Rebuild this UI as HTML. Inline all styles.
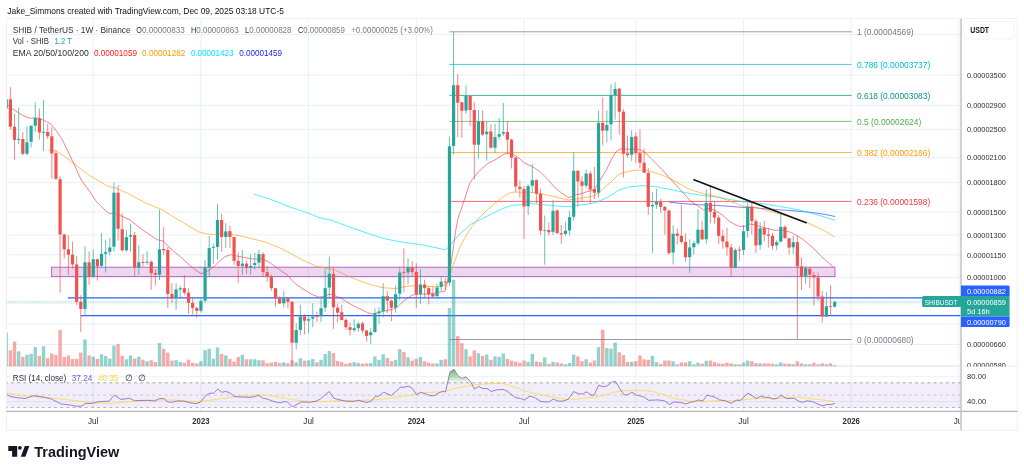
<!DOCTYPE html>
<html lang="en"><head><meta charset="utf-8"><title>SHIBUSDT chart</title>
<style>html,body{margin:0;padding:0;background:#fff;}body{width:1024px;height:473px;overflow:hidden;}svg{display:block;}text{font-family:"Liberation Sans", sans-serif;}</style></head><body>
<svg width="1024" height="473" viewBox="0 0 1024 473">
<defs><clipPath id="main"><rect x="7.05" y="18.5" width="953.95" height="347.9"/></clipPath>
<clipPath id="rsi"><rect x="6.5" y="366.5" width="954.5" height="45"/></clipPath>
<clipPath id="axis"><rect x="961" y="18.5" width="56" height="347.9"/></clipPath>
<clipPath id="taxis"><rect x="6.5" y="412" width="954" height="18"/></clipPath>
<linearGradient id="gr" x1="0" y1="0" x2="0" y2="1"><stop offset="0" stop-color="#4caf50" stop-opacity="0.85"/><stop offset="1" stop-color="#4caf50" stop-opacity="0.05"/></linearGradient>
</defs>
<rect x="0" y="0" width="1024" height="473" fill="#ffffff"/>
<text x="7.3" y="13.9" font-size="9.2" fill="#0b0e14" textLength="276.6" lengthAdjust="spacingAndGlyphs">Jake_Simmons created with TradingView.com, Dec 09, 2025 03:18 UTC-5</text>
<rect x="6.5" y="18.6" width="1010.8" height="411.7" fill="#fff" stroke="#eef0f5" stroke-width="1"/>
<g stroke="#e3edf6" stroke-width="0.8" clip-path="url(#main)">
<line x1="6.5" y1="34.5" x2="961" y2="34.5"/>
<line x1="6.5" y1="75.1" x2="961" y2="75.1"/>
<line x1="6.5" y1="105.4" x2="961" y2="105.4"/>
<line x1="6.5" y1="129.4" x2="961" y2="129.4"/>
<line x1="6.5" y1="157.6" x2="961" y2="157.6"/>
<line x1="6.5" y1="182.5" x2="961" y2="182.5"/>
<line x1="6.5" y1="211.9" x2="961" y2="211.9"/>
<line x1="6.5" y1="235.0" x2="961" y2="235.0"/>
<line x1="6.5" y1="254.8" x2="961" y2="254.8"/>
<line x1="6.5" y1="277.4" x2="961" y2="277.4"/>
<line x1="6.5" y1="303.6" x2="961" y2="303.6"/>
<line x1="6.5" y1="323.9" x2="961" y2="323.9"/>
<line x1="6.5" y1="344.5" x2="961" y2="344.5"/>
<line x1="6.5" y1="365.4" x2="961" y2="365.4"/>
</g>
<g stroke="#e3edf6" stroke-width="0.8">
<line x1="93.2" y1="18.6" x2="93.2" y2="411"/>
<line x1="200.9" y1="18.6" x2="200.9" y2="411"/>
<line x1="308.6" y1="18.6" x2="308.6" y2="411"/>
<line x1="416.3" y1="18.6" x2="416.3" y2="411"/>
<line x1="524.0" y1="18.6" x2="524.0" y2="411"/>
<line x1="635.8" y1="18.6" x2="635.8" y2="411"/>
<line x1="743.5" y1="18.6" x2="743.5" y2="411"/>
<line x1="851.2" y1="18.6" x2="851.2" y2="411"/>
<line x1="958.9" y1="18.6" x2="958.9" y2="411"/>
<line x1="6.5" y1="376.3" x2="961" y2="376.3"/>
<line x1="6.5" y1="401.5" x2="961" y2="401.5"/>
</g>
<line x1="6.5" y1="366.4" x2="1017.3" y2="366.4" stroke="#e6ebf3" stroke-width="0.9"/>
<rect x="51.6" y="267.2" width="783.4" height="9.4" fill="#9c27b0" fill-opacity="0.19" stroke="#ab47bc" stroke-opacity="0.9" stroke-width="0.9"/>
<line x1="449.4" y1="31.8" x2="851.6" y2="31.8" stroke="#787b86" stroke-width="0.75"/>
<line x1="449.4" y1="64.4" x2="851.6" y2="64.4" stroke="#00bcd4" stroke-width="0.75"/>
<line x1="449.4" y1="95.4" x2="851.6" y2="95.4" stroke="#089981" stroke-width="0.75"/>
<line x1="449.4" y1="121.4" x2="851.6" y2="121.4" stroke="#4caf50" stroke-width="0.75"/>
<line x1="449.4" y1="152.6" x2="851.6" y2="152.6" stroke="#ff9800" stroke-width="0.75"/>
<line x1="449.4" y1="201.4" x2="851.6" y2="201.4" stroke="#f23645" stroke-width="0.75"/>
<line x1="449.4" y1="339.5" x2="851.6" y2="339.5" stroke="#787b86" stroke-width="0.75"/>
<line x1="6.5" y1="301.9" x2="961" y2="301.9" stroke="#26a69a" stroke-width="0.8" stroke-dasharray="0.9 0.8" stroke-opacity="0.7"/>
<line x1="67.9" y1="297.8" x2="961" y2="297.8" stroke="#2962ff" stroke-width="1.25"/>
<line x1="80.6" y1="315.5" x2="961" y2="315.5" stroke="#2962ff" stroke-width="1.25"/>
<g clip-path="url(#main)">
<rect x="4.56" y="332.6" width="3.4" height="33.7" fill="#26a69a" fill-opacity="0.5"/>
<rect x="8.70" y="350.4" width="3.4" height="15.9" fill="#ef5350" fill-opacity="0.5"/>
<rect x="12.84" y="341.6" width="3.4" height="24.7" fill="#ef5350" fill-opacity="0.5"/>
<rect x="16.98" y="351.3" width="3.4" height="15.0" fill="#26a69a" fill-opacity="0.5"/>
<rect x="21.13" y="356.7" width="3.4" height="9.6" fill="#ef5350" fill-opacity="0.5"/>
<rect x="25.27" y="354.8" width="3.4" height="11.5" fill="#26a69a" fill-opacity="0.5"/>
<rect x="29.41" y="353.9" width="3.4" height="12.4" fill="#26a69a" fill-opacity="0.5"/>
<rect x="33.55" y="347.1" width="3.4" height="19.2" fill="#26a69a" fill-opacity="0.5"/>
<rect x="37.69" y="355.8" width="3.4" height="10.5" fill="#ef5350" fill-opacity="0.5"/>
<rect x="41.84" y="346.3" width="3.4" height="20.0" fill="#26a69a" fill-opacity="0.5"/>
<rect x="45.98" y="358.3" width="3.4" height="8.0" fill="#ef5350" fill-opacity="0.5"/>
<rect x="50.12" y="353.5" width="3.4" height="12.8" fill="#ef5350" fill-opacity="0.5"/>
<rect x="54.26" y="355.1" width="3.4" height="11.2" fill="#ef5350" fill-opacity="0.5"/>
<rect x="58.40" y="329.8" width="3.4" height="36.5" fill="#ef5350" fill-opacity="0.5"/>
<rect x="62.55" y="357.0" width="3.4" height="9.3" fill="#ef5350" fill-opacity="0.5"/>
<rect x="66.69" y="355.5" width="3.4" height="10.8" fill="#ef5350" fill-opacity="0.5"/>
<rect x="70.83" y="358.9" width="3.4" height="7.4" fill="#ef5350" fill-opacity="0.5"/>
<rect x="74.97" y="358.9" width="3.4" height="7.4" fill="#ef5350" fill-opacity="0.5"/>
<rect x="79.11" y="352.6" width="3.4" height="13.7" fill="#ef5350" fill-opacity="0.5"/>
<rect x="83.26" y="339.5" width="3.4" height="26.8" fill="#26a69a" fill-opacity="0.5"/>
<rect x="87.40" y="355.4" width="3.4" height="10.9" fill="#ef5350" fill-opacity="0.5"/>
<rect x="91.54" y="356.7" width="3.4" height="9.6" fill="#26a69a" fill-opacity="0.5"/>
<rect x="95.68" y="358.9" width="3.4" height="7.4" fill="#ef5350" fill-opacity="0.5"/>
<rect x="99.82" y="354.3" width="3.4" height="12.0" fill="#26a69a" fill-opacity="0.5"/>
<rect x="103.97" y="356.0" width="3.4" height="10.3" fill="#26a69a" fill-opacity="0.5"/>
<rect x="108.11" y="358.6" width="3.4" height="7.7" fill="#26a69a" fill-opacity="0.5"/>
<rect x="112.25" y="345.6" width="3.4" height="20.7" fill="#26a69a" fill-opacity="0.5"/>
<rect x="116.39" y="344.1" width="3.4" height="22.2" fill="#ef5350" fill-opacity="0.5"/>
<rect x="120.53" y="355.8" width="3.4" height="10.5" fill="#ef5350" fill-opacity="0.5"/>
<rect x="124.68" y="359.3" width="3.4" height="7.0" fill="#26a69a" fill-opacity="0.5"/>
<rect x="128.82" y="355.5" width="3.4" height="10.8" fill="#26a69a" fill-opacity="0.5"/>
<rect x="132.96" y="358.6" width="3.4" height="7.7" fill="#ef5350" fill-opacity="0.5"/>
<rect x="137.10" y="356.7" width="3.4" height="9.6" fill="#26a69a" fill-opacity="0.5"/>
<rect x="141.24" y="359.6" width="3.4" height="6.7" fill="#ef5350" fill-opacity="0.5"/>
<rect x="145.39" y="361.1" width="3.4" height="5.2" fill="#26a69a" fill-opacity="0.5"/>
<rect x="149.53" y="360.2" width="3.4" height="6.1" fill="#ef5350" fill-opacity="0.5"/>
<rect x="153.67" y="362.1" width="3.4" height="4.2" fill="#ef5350" fill-opacity="0.5"/>
<rect x="157.81" y="343.1" width="3.4" height="23.2" fill="#26a69a" fill-opacity="0.5"/>
<rect x="161.95" y="348.8" width="3.4" height="17.5" fill="#ef5350" fill-opacity="0.5"/>
<rect x="166.10" y="352.6" width="3.4" height="13.7" fill="#ef5350" fill-opacity="0.5"/>
<rect x="170.24" y="360.6" width="3.4" height="5.7" fill="#ef5350" fill-opacity="0.5"/>
<rect x="174.38" y="360.2" width="3.4" height="6.1" fill="#26a69a" fill-opacity="0.5"/>
<rect x="178.52" y="361.9" width="3.4" height="4.4" fill="#26a69a" fill-opacity="0.5"/>
<rect x="182.66" y="362.7" width="3.4" height="3.6" fill="#ef5350" fill-opacity="0.5"/>
<rect x="186.81" y="359.6" width="3.4" height="6.7" fill="#ef5350" fill-opacity="0.5"/>
<rect x="190.95" y="362.7" width="3.4" height="3.6" fill="#ef5350" fill-opacity="0.5"/>
<rect x="195.09" y="363.4" width="3.4" height="2.9" fill="#ef5350" fill-opacity="0.5"/>
<rect x="199.23" y="361.2" width="3.4" height="5.1" fill="#26a69a" fill-opacity="0.5"/>
<rect x="203.37" y="350.1" width="3.4" height="16.2" fill="#26a69a" fill-opacity="0.5"/>
<rect x="207.52" y="348.8" width="3.4" height="17.5" fill="#26a69a" fill-opacity="0.5"/>
<rect x="211.66" y="358.6" width="3.4" height="7.7" fill="#26a69a" fill-opacity="0.5"/>
<rect x="215.80" y="347.5" width="3.4" height="18.8" fill="#26a69a" fill-opacity="0.5"/>
<rect x="219.94" y="353.9" width="3.4" height="12.4" fill="#ef5350" fill-opacity="0.5"/>
<rect x="224.08" y="355.4" width="3.4" height="10.9" fill="#26a69a" fill-opacity="0.5"/>
<rect x="228.23" y="358.9" width="3.4" height="7.4" fill="#ef5350" fill-opacity="0.5"/>
<rect x="232.37" y="361.5" width="3.4" height="4.8" fill="#ef5350" fill-opacity="0.5"/>
<rect x="236.51" y="357.0" width="3.4" height="9.3" fill="#ef5350" fill-opacity="0.5"/>
<rect x="240.65" y="354.9" width="3.4" height="11.4" fill="#26a69a" fill-opacity="0.5"/>
<rect x="244.79" y="359.3" width="3.4" height="7.0" fill="#ef5350" fill-opacity="0.5"/>
<rect x="248.94" y="359.3" width="3.4" height="7.0" fill="#26a69a" fill-opacity="0.5"/>
<rect x="253.08" y="359.3" width="3.4" height="7.0" fill="#26a69a" fill-opacity="0.5"/>
<rect x="257.22" y="360.3" width="3.4" height="6.0" fill="#26a69a" fill-opacity="0.5"/>
<rect x="261.36" y="360.3" width="3.4" height="6.0" fill="#ef5350" fill-opacity="0.5"/>
<rect x="265.50" y="363.1" width="3.4" height="3.2" fill="#ef5350" fill-opacity="0.5"/>
<rect x="269.65" y="362.5" width="3.4" height="3.8" fill="#ef5350" fill-opacity="0.5"/>
<rect x="273.79" y="361.9" width="3.4" height="4.4" fill="#ef5350" fill-opacity="0.5"/>
<rect x="277.93" y="363.1" width="3.4" height="3.2" fill="#ef5350" fill-opacity="0.5"/>
<rect x="282.07" y="362.3" width="3.4" height="4.0" fill="#26a69a" fill-opacity="0.5"/>
<rect x="286.21" y="363.4" width="3.4" height="2.9" fill="#ef5350" fill-opacity="0.5"/>
<rect x="290.36" y="360.3" width="3.4" height="6.0" fill="#ef5350" fill-opacity="0.5"/>
<rect x="294.50" y="362.3" width="3.4" height="4.0" fill="#26a69a" fill-opacity="0.5"/>
<rect x="298.64" y="358.3" width="3.4" height="8.0" fill="#26a69a" fill-opacity="0.5"/>
<rect x="302.78" y="360.6" width="3.4" height="5.7" fill="#ef5350" fill-opacity="0.5"/>
<rect x="306.92" y="360.3" width="3.4" height="6.0" fill="#26a69a" fill-opacity="0.5"/>
<rect x="311.07" y="359.1" width="3.4" height="7.2" fill="#26a69a" fill-opacity="0.5"/>
<rect x="315.21" y="362.3" width="3.4" height="4.0" fill="#ef5350" fill-opacity="0.5"/>
<rect x="319.35" y="359.7" width="3.4" height="6.6" fill="#26a69a" fill-opacity="0.5"/>
<rect x="323.49" y="354.0" width="3.4" height="12.3" fill="#26a69a" fill-opacity="0.5"/>
<rect x="327.63" y="351.1" width="3.4" height="15.2" fill="#26a69a" fill-opacity="0.5"/>
<rect x="331.78" y="353.0" width="3.4" height="13.3" fill="#ef5350" fill-opacity="0.5"/>
<rect x="335.92" y="361.0" width="3.4" height="5.3" fill="#ef5350" fill-opacity="0.5"/>
<rect x="340.06" y="362.1" width="3.4" height="4.2" fill="#ef5350" fill-opacity="0.5"/>
<rect x="344.20" y="363.8" width="3.4" height="2.5" fill="#ef5350" fill-opacity="0.5"/>
<rect x="348.34" y="362.9" width="3.4" height="3.4" fill="#ef5350" fill-opacity="0.5"/>
<rect x="352.49" y="362.1" width="3.4" height="4.2" fill="#26a69a" fill-opacity="0.5"/>
<rect x="356.63" y="363.1" width="3.4" height="3.2" fill="#26a69a" fill-opacity="0.5"/>
<rect x="360.77" y="363.6" width="3.4" height="2.7" fill="#ef5350" fill-opacity="0.5"/>
<rect x="364.91" y="363.4" width="3.4" height="2.9" fill="#ef5350" fill-opacity="0.5"/>
<rect x="369.05" y="363.1" width="3.4" height="3.2" fill="#26a69a" fill-opacity="0.5"/>
<rect x="373.20" y="356.4" width="3.4" height="9.9" fill="#26a69a" fill-opacity="0.5"/>
<rect x="377.34" y="359.8" width="3.4" height="6.5" fill="#26a69a" fill-opacity="0.5"/>
<rect x="381.48" y="354.3" width="3.4" height="12.0" fill="#26a69a" fill-opacity="0.5"/>
<rect x="385.62" y="358.1" width="3.4" height="8.2" fill="#ef5350" fill-opacity="0.5"/>
<rect x="389.76" y="361.1" width="3.4" height="5.2" fill="#ef5350" fill-opacity="0.5"/>
<rect x="393.91" y="359.8" width="3.4" height="6.5" fill="#26a69a" fill-opacity="0.5"/>
<rect x="398.05" y="349.2" width="3.4" height="17.1" fill="#26a69a" fill-opacity="0.5"/>
<rect x="402.19" y="352.0" width="3.4" height="14.3" fill="#ef5350" fill-opacity="0.5"/>
<rect x="406.33" y="357.3" width="3.4" height="9.0" fill="#26a69a" fill-opacity="0.5"/>
<rect x="410.47" y="360.6" width="3.4" height="5.7" fill="#ef5350" fill-opacity="0.5"/>
<rect x="414.62" y="358.9" width="3.4" height="7.4" fill="#ef5350" fill-opacity="0.5"/>
<rect x="418.76" y="357.0" width="3.4" height="9.3" fill="#26a69a" fill-opacity="0.5"/>
<rect x="422.90" y="361.2" width="3.4" height="5.1" fill="#ef5350" fill-opacity="0.5"/>
<rect x="427.04" y="362.7" width="3.4" height="3.6" fill="#ef5350" fill-opacity="0.5"/>
<rect x="431.18" y="363.4" width="3.4" height="2.9" fill="#ef5350" fill-opacity="0.5"/>
<rect x="435.33" y="363.4" width="3.4" height="2.9" fill="#26a69a" fill-opacity="0.5"/>
<rect x="439.47" y="359.8" width="3.4" height="6.5" fill="#26a69a" fill-opacity="0.5"/>
<rect x="443.61" y="359.3" width="3.4" height="7.0" fill="#ef5350" fill-opacity="0.5"/>
<rect x="447.75" y="307.9" width="3.4" height="58.4" fill="#26a69a" fill-opacity="0.5"/>
<rect x="451.89" y="279.7" width="3.4" height="86.6" fill="#26a69a" fill-opacity="0.5"/>
<rect x="456.04" y="336.1" width="3.4" height="30.2" fill="#ef5350" fill-opacity="0.5"/>
<rect x="460.18" y="343.2" width="3.4" height="23.1" fill="#ef5350" fill-opacity="0.5"/>
<rect x="464.32" y="349.2" width="3.4" height="17.1" fill="#26a69a" fill-opacity="0.5"/>
<rect x="468.46" y="356.4" width="3.4" height="9.9" fill="#ef5350" fill-opacity="0.5"/>
<rect x="472.60" y="350.4" width="3.4" height="15.9" fill="#ef5350" fill-opacity="0.5"/>
<rect x="476.75" y="353.2" width="3.4" height="13.1" fill="#26a69a" fill-opacity="0.5"/>
<rect x="480.89" y="355.9" width="3.4" height="10.4" fill="#ef5350" fill-opacity="0.5"/>
<rect x="485.03" y="354.5" width="3.4" height="11.8" fill="#26a69a" fill-opacity="0.5"/>
<rect x="489.17" y="359.8" width="3.4" height="6.5" fill="#ef5350" fill-opacity="0.5"/>
<rect x="493.31" y="356.4" width="3.4" height="9.9" fill="#26a69a" fill-opacity="0.5"/>
<rect x="497.46" y="356.8" width="3.4" height="9.5" fill="#26a69a" fill-opacity="0.5"/>
<rect x="501.60" y="353.5" width="3.4" height="12.8" fill="#26a69a" fill-opacity="0.5"/>
<rect x="505.74" y="358.9" width="3.4" height="7.4" fill="#ef5350" fill-opacity="0.5"/>
<rect x="509.88" y="360.6" width="3.4" height="5.7" fill="#ef5350" fill-opacity="0.5"/>
<rect x="514.02" y="361.5" width="3.4" height="4.8" fill="#ef5350" fill-opacity="0.5"/>
<rect x="518.17" y="362.7" width="3.4" height="3.6" fill="#ef5350" fill-opacity="0.5"/>
<rect x="522.31" y="360.6" width="3.4" height="5.7" fill="#ef5350" fill-opacity="0.5"/>
<rect x="526.45" y="361.9" width="3.4" height="4.4" fill="#26a69a" fill-opacity="0.5"/>
<rect x="530.59" y="353.9" width="3.4" height="12.4" fill="#26a69a" fill-opacity="0.5"/>
<rect x="534.73" y="361.5" width="3.4" height="4.8" fill="#ef5350" fill-opacity="0.5"/>
<rect x="538.88" y="362.1" width="3.4" height="4.2" fill="#ef5350" fill-opacity="0.5"/>
<rect x="543.02" y="357.4" width="3.4" height="8.9" fill="#26a69a" fill-opacity="0.5"/>
<rect x="547.16" y="363.8" width="3.4" height="2.5" fill="#ef5350" fill-opacity="0.5"/>
<rect x="551.30" y="361.7" width="3.4" height="4.6" fill="#26a69a" fill-opacity="0.5"/>
<rect x="555.44" y="362.4" width="3.4" height="3.9" fill="#ef5350" fill-opacity="0.5"/>
<rect x="559.59" y="363.4" width="3.4" height="2.9" fill="#ef5350" fill-opacity="0.5"/>
<rect x="563.73" y="364.3" width="3.4" height="2.0" fill="#26a69a" fill-opacity="0.5"/>
<rect x="567.87" y="363.0" width="3.4" height="3.3" fill="#26a69a" fill-opacity="0.5"/>
<rect x="572.01" y="354.5" width="3.4" height="11.8" fill="#26a69a" fill-opacity="0.5"/>
<rect x="576.15" y="356.4" width="3.4" height="9.9" fill="#ef5350" fill-opacity="0.5"/>
<rect x="580.30" y="361.1" width="3.4" height="5.2" fill="#ef5350" fill-opacity="0.5"/>
<rect x="584.44" y="359.3" width="3.4" height="7.0" fill="#26a69a" fill-opacity="0.5"/>
<rect x="588.58" y="362.4" width="3.4" height="3.9" fill="#ef5350" fill-opacity="0.5"/>
<rect x="592.72" y="360.5" width="3.4" height="5.8" fill="#ef5350" fill-opacity="0.5"/>
<rect x="596.86" y="347.1" width="3.4" height="19.2" fill="#26a69a" fill-opacity="0.5"/>
<rect x="601.01" y="329.8" width="3.4" height="36.5" fill="#ef5350" fill-opacity="0.5"/>
<rect x="605.15" y="348.0" width="3.4" height="18.3" fill="#26a69a" fill-opacity="0.5"/>
<rect x="609.29" y="348.8" width="3.4" height="17.5" fill="#26a69a" fill-opacity="0.5"/>
<rect x="613.43" y="342.5" width="3.4" height="23.8" fill="#26a69a" fill-opacity="0.5"/>
<rect x="617.57" y="352.2" width="3.4" height="14.1" fill="#ef5350" fill-opacity="0.5"/>
<rect x="621.72" y="355.1" width="3.4" height="11.2" fill="#ef5350" fill-opacity="0.5"/>
<rect x="625.86" y="361.9" width="3.4" height="4.4" fill="#ef5350" fill-opacity="0.5"/>
<rect x="630.00" y="361.9" width="3.4" height="4.4" fill="#26a69a" fill-opacity="0.5"/>
<rect x="634.14" y="361.2" width="3.4" height="5.1" fill="#ef5350" fill-opacity="0.5"/>
<rect x="638.28" y="355.4" width="3.4" height="10.9" fill="#ef5350" fill-opacity="0.5"/>
<rect x="642.43" y="359.3" width="3.4" height="7.0" fill="#ef5350" fill-opacity="0.5"/>
<rect x="646.57" y="359.8" width="3.4" height="6.5" fill="#ef5350" fill-opacity="0.5"/>
<rect x="650.71" y="355.8" width="3.4" height="10.5" fill="#26a69a" fill-opacity="0.5"/>
<rect x="654.85" y="362.1" width="3.4" height="4.2" fill="#26a69a" fill-opacity="0.5"/>
<rect x="658.99" y="363.8" width="3.4" height="2.5" fill="#ef5350" fill-opacity="0.5"/>
<rect x="663.14" y="360.5" width="3.4" height="5.8" fill="#ef5350" fill-opacity="0.5"/>
<rect x="667.28" y="360.5" width="3.4" height="5.8" fill="#ef5350" fill-opacity="0.5"/>
<rect x="671.42" y="361.2" width="3.4" height="5.1" fill="#26a69a" fill-opacity="0.5"/>
<rect x="675.56" y="364.3" width="3.4" height="2.0" fill="#ef5350" fill-opacity="0.5"/>
<rect x="679.70" y="362.4" width="3.4" height="3.9" fill="#ef5350" fill-opacity="0.5"/>
<rect x="683.85" y="362.5" width="3.4" height="3.8" fill="#ef5350" fill-opacity="0.5"/>
<rect x="687.99" y="361.2" width="3.4" height="5.1" fill="#26a69a" fill-opacity="0.5"/>
<rect x="692.13" y="364.4" width="3.4" height="1.9" fill="#26a69a" fill-opacity="0.5"/>
<rect x="696.27" y="362.7" width="3.4" height="3.6" fill="#26a69a" fill-opacity="0.5"/>
<rect x="700.41" y="363.6" width="3.4" height="2.7" fill="#ef5350" fill-opacity="0.5"/>
<rect x="704.56" y="360.8" width="3.4" height="5.5" fill="#26a69a" fill-opacity="0.5"/>
<rect x="708.70" y="360.5" width="3.4" height="5.8" fill="#ef5350" fill-opacity="0.5"/>
<rect x="712.84" y="362.1" width="3.4" height="4.2" fill="#ef5350" fill-opacity="0.5"/>
<rect x="716.98" y="363.4" width="3.4" height="2.9" fill="#ef5350" fill-opacity="0.5"/>
<rect x="721.12" y="363.8" width="3.4" height="2.5" fill="#ef5350" fill-opacity="0.5"/>
<rect x="725.27" y="362.8" width="3.4" height="3.5" fill="#ef5350" fill-opacity="0.5"/>
<rect x="729.41" y="363.4" width="3.4" height="2.9" fill="#ef5350" fill-opacity="0.5"/>
<rect x="733.55" y="364.3" width="3.4" height="2.0" fill="#26a69a" fill-opacity="0.5"/>
<rect x="737.69" y="364.3" width="3.4" height="2.0" fill="#ef5350" fill-opacity="0.5"/>
<rect x="741.83" y="362.5" width="3.4" height="3.8" fill="#26a69a" fill-opacity="0.5"/>
<rect x="745.98" y="360.5" width="3.4" height="5.8" fill="#26a69a" fill-opacity="0.5"/>
<rect x="750.12" y="361.2" width="3.4" height="5.1" fill="#ef5350" fill-opacity="0.5"/>
<rect x="754.26" y="363.1" width="3.4" height="3.2" fill="#ef5350" fill-opacity="0.5"/>
<rect x="758.40" y="363.4" width="3.4" height="2.9" fill="#26a69a" fill-opacity="0.5"/>
<rect x="762.54" y="363.4" width="3.4" height="2.9" fill="#ef5350" fill-opacity="0.5"/>
<rect x="766.69" y="363.4" width="3.4" height="2.9" fill="#ef5350" fill-opacity="0.5"/>
<rect x="770.83" y="363.6" width="3.4" height="2.7" fill="#ef5350" fill-opacity="0.5"/>
<rect x="774.97" y="364.3" width="3.4" height="2.0" fill="#26a69a" fill-opacity="0.5"/>
<rect x="779.11" y="362.5" width="3.4" height="3.8" fill="#26a69a" fill-opacity="0.5"/>
<rect x="783.25" y="363.6" width="3.4" height="2.7" fill="#ef5350" fill-opacity="0.5"/>
<rect x="787.40" y="363.6" width="3.4" height="2.7" fill="#ef5350" fill-opacity="0.5"/>
<rect x="791.54" y="364.3" width="3.4" height="2.0" fill="#26a69a" fill-opacity="0.5"/>
<rect x="795.68" y="361.2" width="3.4" height="5.1" fill="#ef5350" fill-opacity="0.5"/>
<rect x="799.82" y="363.4" width="3.4" height="2.9" fill="#ef5350" fill-opacity="0.5"/>
<rect x="803.96" y="364.3" width="3.4" height="2.0" fill="#26a69a" fill-opacity="0.5"/>
<rect x="808.11" y="364.3" width="3.4" height="2.0" fill="#ef5350" fill-opacity="0.5"/>
<rect x="812.25" y="362.7" width="3.4" height="3.6" fill="#ef5350" fill-opacity="0.5"/>
<rect x="816.39" y="364.3" width="3.4" height="2.0" fill="#ef5350" fill-opacity="0.5"/>
<rect x="820.53" y="363.4" width="3.4" height="2.9" fill="#ef5350" fill-opacity="0.5"/>
<rect x="824.67" y="364.3" width="3.4" height="2.0" fill="#26a69a" fill-opacity="0.5"/>
<rect x="828.82" y="363.4" width="3.4" height="2.9" fill="#ef5350" fill-opacity="0.5"/>
<rect x="832.96" y="365.3" width="3.4" height="1.0" fill="#26a69a" fill-opacity="0.5"/>
</g>
<g clip-path="url(#main)">
<polyline fill="none" stroke="#2a2aff" stroke-width="0.62" stroke-linejoin="round"  points="669.2,202.2 681.9,203.5 697.1,204.7 716.1,205.4 728.8,206.3 741.5,207.3 754.2,207.6 762.7,208.6 775.4,209.5 788.1,210.4 800.7,211.4 813.4,212.7 826.1,214.6 835.2,216.5"/>
<polyline fill="none" stroke="#00e5ff" stroke-width="0.68" stroke-linejoin="round"  points="254.2,194.3 271.7,199.7 290.7,207.3 308.5,213.2 318.7,217.4 331.3,220.3 347.8,226.3 360.0,230.6 372.7,235.1 385.4,238.9 398.1,241.4 410.7,243.3 423.4,245.2 436.1,247.8 445.0,249.7 448.8,247.1 453.9,240.5 460.6,233.3 470.7,224.4 480.9,219.3 491.0,214.3 501.2,209.2 511.3,205.4 521.5,204.7 530.7,203.5 543.4,204.7 556.1,206.0 568.8,206.6 576.4,205.4 587.8,204.1 596.7,202.2 608.0,197.1 619.9,189.6 628.8,187.1 641.5,185.6 654.2,186.4 665.4,188.5 678.1,191.1 690.7,193.6 703.4,195.5 716.1,197.0 728.8,199.3 741.5,201.6 754.2,202.9 762.7,203.6 775.4,205.7 788.1,207.9 800.7,210.4 813.4,213.7 826.1,217.5 835.2,220.3"/>
<polyline fill="none" stroke="#ff9800" stroke-width="0.62" stroke-linejoin="round"  points="47.6,150.0 55.8,150.9 66.0,157.3 76.1,165.5 88.8,175.0 101.5,182.6 109.1,186.7 115.4,187.9 121.8,190.8 127.6,193.3 145.4,202.8 163.1,210.2 173.3,216.8 188.5,225.7 198.6,231.8 206.3,233.9 215.1,234.5 221.5,233.9 234.2,234.8 240.0,235.7 252.7,238.9 265.4,242.1 278.1,247.1 290.7,253.5 303.4,260.4 316.1,266.2 328.8,268.7 336.4,270.6 347.8,275.9 359.2,280.7 370.1,284.5 382.8,287.7 395.5,288.6 404.4,286.8 414.5,285.6 431.0,286.5 441.2,286.8 447.5,283.3 452.6,266.8 460.2,246.5 463.8,239.6 470.7,228.2 478.4,218.7 487.2,209.8 498.7,200.3 506.3,194.6 511.7,192.3 521.5,192.1 531.6,192.4 540.9,193.7 551.0,195.9 561.2,198.4 568.8,200.0 576.4,199.0 584.0,197.8 591.6,196.5 599.2,192.7 602.2,189.6 611.0,182.0 618.7,174.4 626.3,171.9 633.9,170.3 641.5,170.0 647.8,170.6 654.2,172.5 661.8,175.0 668.0,177.6 678.1,182.8 690.7,189.8 703.4,193.6 716.1,196.2 728.8,200.6 741.5,205.7 747.8,206.9 754.2,207.2 768.0,210.7 780.0,214.0 795.0,218.6 807.1,222.6 816.0,226.6 826.1,231.7 835.2,237.4"/>
<polyline fill="none" stroke="#f23645" stroke-width="0.62" stroke-linejoin="round"  points="7.4,104.7 14.6,110.4 22.8,115.5 29.2,118.0 38.0,118.0 44.4,120.6 50.7,123.8 55.8,130.1 62.2,139.6 73.6,163.0 81.2,180.0 88.8,190.1 96.4,201.6 105.3,210.4 109.7,213.6 112.9,213.0 121.8,216.2 130.1,220.0 142.8,230.1 156.8,239.5 163.8,241.4 168.2,246.5 180.9,257.3 193.6,268.7 201.2,273.8 204.4,272.5 208.8,270.3 213.9,266.8 220.2,260.4 225.3,256.6 230.4,254.7 236.7,256.0 248.0,258.2 252.7,258.9 262.8,259.2 269.2,262.3 278.1,268.7 288.2,275.7 293.3,282.0 300.9,287.6 311.0,294.0 318.7,297.1 325.0,296.5 329.4,294.0 333.9,295.2 340.2,297.8 350.4,304.1 359.2,308.5 367.6,312.7 372.7,314.0 379.0,312.3 395.5,308.5 403.8,300.9 412.0,295.0 419.6,294.2 428.5,294.2 436.1,292.7 445.0,291.2 446.9,283.8 451.3,262.0 455.8,230.0 458.1,218.1 463.8,201.6 469.5,183.8 472.0,179.8 479.6,170.7 487.2,163.8 496.1,159.3 503.7,154.3 507.5,153.2 513.9,154.9 519.0,158.1 524.7,163.1 534.2,167.6 541.8,173.3 548.0,179.6 553.6,186.3 561.2,192.7 568.8,197.8 573.9,195.2 580.2,194.0 587.8,191.4 594.2,190.1 599.6,180.7 606.0,170.6 611.0,160.4 616.1,151.6 619.9,149.0 628.8,149.3 636.4,149.0 641.5,150.3 645.3,152.6 654.2,161.7 661.8,169.3 668.0,176.3 678.1,187.3 690.7,201.2 703.4,209.7 708.0,208.5 714.8,210.1 722.5,215.1 728.8,220.8 735.1,224.6 740.2,226.5 745.3,226.2 749.1,224.0 754.2,224.6 762.7,227.3 775.4,230.4 781.7,229.8 790.6,232.3 796.9,235.5 804.5,240.6 813.4,248.2 821.0,255.8 824.8,259.6 833.4,267.0"/>
</g>
<g clip-path="url(#main)">
<line x1="6.26" y1="99.3" x2="6.26" y2="108.5" stroke="#26a69a" stroke-width="0.7"/>
<rect x="4.66" y="99.3" width="3.2" height="9.2" fill="#26a69a"/>
<line x1="10.40" y1="87.2" x2="10.40" y2="129.7" stroke="#ef5350" stroke-width="0.7"/>
<rect x="8.80" y="99.3" width="3.2" height="27.4" fill="#ef5350"/>
<line x1="14.54" y1="114.0" x2="14.54" y2="159.8" stroke="#ef5350" stroke-width="0.7"/>
<rect x="12.94" y="126.7" width="3.2" height="13.2" fill="#ef5350"/>
<line x1="18.68" y1="107.5" x2="18.68" y2="144.0" stroke="#26a69a" stroke-width="0.7"/>
<rect x="17.08" y="138.9" width="3.2" height="1.0" fill="#26a69a"/>
<line x1="22.83" y1="132.0" x2="22.83" y2="155.4" stroke="#ef5350" stroke-width="0.7"/>
<rect x="21.23" y="139.0" width="3.2" height="14.8" fill="#ef5350"/>
<line x1="26.97" y1="126.3" x2="26.97" y2="155.4" stroke="#26a69a" stroke-width="0.7"/>
<rect x="25.37" y="142.3" width="3.2" height="11.5" fill="#26a69a"/>
<line x1="31.11" y1="125.0" x2="31.11" y2="147.5" stroke="#26a69a" stroke-width="0.7"/>
<rect x="29.51" y="125.9" width="3.2" height="15.9" fill="#26a69a"/>
<line x1="35.25" y1="102.2" x2="35.25" y2="132.0" stroke="#26a69a" stroke-width="0.7"/>
<rect x="33.65" y="118.1" width="3.2" height="7.6" fill="#26a69a"/>
<line x1="39.39" y1="108.5" x2="39.39" y2="139.5" stroke="#ef5350" stroke-width="0.7"/>
<rect x="37.79" y="118.1" width="3.2" height="14.4" fill="#ef5350"/>
<line x1="43.54" y1="100.0" x2="43.54" y2="150.9" stroke="#26a69a" stroke-width="0.7"/>
<rect x="41.94" y="131.8" width="3.2" height="1.0" fill="#26a69a"/>
<line x1="47.68" y1="124.1" x2="47.68" y2="138.9" stroke="#ef5350" stroke-width="0.7"/>
<rect x="46.08" y="132.0" width="3.2" height="4.3" fill="#ef5350"/>
<line x1="51.82" y1="127.2" x2="51.82" y2="178.8" stroke="#ef5350" stroke-width="0.7"/>
<rect x="50.22" y="136.3" width="3.2" height="17.2" fill="#ef5350"/>
<line x1="55.96" y1="150.3" x2="55.96" y2="180.1" stroke="#ef5350" stroke-width="0.7"/>
<rect x="54.36" y="153.2" width="3.2" height="25.6" fill="#ef5350"/>
<line x1="60.10" y1="176.3" x2="60.10" y2="292.7" stroke="#ef5350" stroke-width="0.7"/>
<rect x="58.50" y="179.2" width="3.2" height="55.2" fill="#ef5350"/>
<line x1="64.25" y1="234.3" x2="64.25" y2="258.5" stroke="#ef5350" stroke-width="0.7"/>
<rect x="62.65" y="234.4" width="3.2" height="14.9" fill="#ef5350"/>
<line x1="68.39" y1="235.0" x2="68.39" y2="275.0" stroke="#ef5350" stroke-width="0.7"/>
<rect x="66.79" y="249.3" width="3.2" height="5.4" fill="#ef5350"/>
<line x1="72.53" y1="241.7" x2="72.53" y2="268.7" stroke="#ef5350" stroke-width="0.7"/>
<rect x="70.93" y="254.7" width="3.2" height="9.8" fill="#ef5350"/>
<line x1="76.67" y1="256.0" x2="76.67" y2="305.4" stroke="#ef5350" stroke-width="0.7"/>
<rect x="75.07" y="264.5" width="3.2" height="37.3" fill="#ef5350"/>
<line x1="80.81" y1="295.2" x2="80.81" y2="331.8" stroke="#ef5350" stroke-width="0.7"/>
<rect x="79.21" y="301.8" width="3.2" height="7.1" fill="#ef5350"/>
<line x1="84.96" y1="246.2" x2="84.96" y2="314.5" stroke="#26a69a" stroke-width="0.7"/>
<rect x="83.36" y="262.3" width="3.2" height="46.6" fill="#26a69a"/>
<line x1="89.10" y1="251.6" x2="89.10" y2="284.8" stroke="#ef5350" stroke-width="0.7"/>
<rect x="87.50" y="262.3" width="3.2" height="14.4" fill="#ef5350"/>
<line x1="93.24" y1="249.3" x2="93.24" y2="278.2" stroke="#26a69a" stroke-width="0.7"/>
<rect x="91.64" y="259.2" width="3.2" height="17.1" fill="#26a69a"/>
<line x1="97.38" y1="259.0" x2="97.38" y2="280.7" stroke="#ef5350" stroke-width="0.7"/>
<rect x="95.78" y="259.2" width="3.2" height="7.0" fill="#ef5350"/>
<line x1="101.52" y1="233.2" x2="101.52" y2="266.8" stroke="#26a69a" stroke-width="0.7"/>
<rect x="99.92" y="253.8" width="3.2" height="12.1" fill="#26a69a"/>
<line x1="105.67" y1="239.9" x2="105.67" y2="272.5" stroke="#26a69a" stroke-width="0.7"/>
<rect x="104.07" y="252.2" width="3.2" height="1.6" fill="#26a69a"/>
<line x1="109.81" y1="238.2" x2="109.81" y2="255.4" stroke="#26a69a" stroke-width="0.7"/>
<rect x="108.21" y="247.5" width="3.2" height="4.3" fill="#26a69a"/>
<line x1="113.95" y1="182.5" x2="113.95" y2="251.6" stroke="#26a69a" stroke-width="0.7"/>
<rect x="112.35" y="192.7" width="3.2" height="54.0" fill="#26a69a"/>
<line x1="118.09" y1="185.3" x2="118.09" y2="240.8" stroke="#ef5350" stroke-width="0.7"/>
<rect x="116.49" y="192.7" width="3.2" height="36.1" fill="#ef5350"/>
<line x1="122.23" y1="213.6" x2="122.23" y2="251.6" stroke="#ef5350" stroke-width="0.7"/>
<rect x="120.63" y="229.2" width="3.2" height="21.1" fill="#ef5350"/>
<line x1="126.38" y1="230.1" x2="126.38" y2="251.8" stroke="#26a69a" stroke-width="0.7"/>
<rect x="124.78" y="237.2" width="3.2" height="13.1" fill="#26a69a"/>
<line x1="130.52" y1="223.8" x2="130.52" y2="251.6" stroke="#26a69a" stroke-width="0.7"/>
<rect x="128.92" y="235.1" width="3.2" height="1.5" fill="#26a69a"/>
<line x1="134.66" y1="232.0" x2="134.66" y2="276.9" stroke="#ef5350" stroke-width="0.7"/>
<rect x="133.06" y="235.1" width="3.2" height="32.3" fill="#ef5350"/>
<line x1="138.80" y1="245.2" x2="138.80" y2="275.0" stroke="#26a69a" stroke-width="0.7"/>
<rect x="137.20" y="262.3" width="3.2" height="5.1" fill="#26a69a"/>
<line x1="142.94" y1="254.1" x2="142.94" y2="266.2" stroke="#ef5350" stroke-width="0.7"/>
<rect x="141.34" y="262.1" width="3.2" height="0.9" fill="#ef5350"/>
<line x1="147.09" y1="251.3" x2="147.09" y2="264.9" stroke="#26a69a" stroke-width="0.7"/>
<rect x="145.49" y="261.7" width="3.2" height="1.0" fill="#26a69a"/>
<line x1="151.23" y1="260.4" x2="151.23" y2="289.9" stroke="#ef5350" stroke-width="0.7"/>
<rect x="149.63" y="261.7" width="3.2" height="11.4" fill="#ef5350"/>
<line x1="155.37" y1="269.3" x2="155.37" y2="285.7" stroke="#ef5350" stroke-width="0.7"/>
<rect x="153.77" y="273.1" width="3.2" height="1.6" fill="#ef5350"/>
<line x1="159.51" y1="209.8" x2="159.51" y2="279.9" stroke="#26a69a" stroke-width="0.7"/>
<rect x="157.91" y="249.3" width="3.2" height="25.4" fill="#26a69a"/>
<line x1="163.65" y1="227.2" x2="163.65" y2="254.7" stroke="#ef5350" stroke-width="0.7"/>
<rect x="162.05" y="249.0" width="3.2" height="1.3" fill="#ef5350"/>
<line x1="167.80" y1="247.1" x2="167.80" y2="307.7" stroke="#ef5350" stroke-width="0.7"/>
<rect x="166.20" y="250.0" width="3.2" height="44.0" fill="#ef5350"/>
<line x1="171.94" y1="283.2" x2="171.94" y2="302.8" stroke="#ef5350" stroke-width="0.7"/>
<rect x="170.34" y="294.0" width="3.2" height="4.1" fill="#ef5350"/>
<line x1="176.08" y1="283.2" x2="176.08" y2="309.8" stroke="#26a69a" stroke-width="0.7"/>
<rect x="174.48" y="289.5" width="3.2" height="8.6" fill="#26a69a"/>
<line x1="180.22" y1="285.7" x2="180.22" y2="298.4" stroke="#26a69a" stroke-width="0.7"/>
<rect x="178.62" y="288.2" width="3.2" height="1.3" fill="#26a69a"/>
<line x1="184.36" y1="275.0" x2="184.36" y2="295.2" stroke="#ef5350" stroke-width="0.7"/>
<rect x="182.76" y="288.2" width="3.2" height="4.5" fill="#ef5350"/>
<line x1="188.51" y1="288.2" x2="188.51" y2="313.6" stroke="#ef5350" stroke-width="0.7"/>
<rect x="186.91" y="292.7" width="3.2" height="10.1" fill="#ef5350"/>
<line x1="192.65" y1="298.4" x2="192.65" y2="314.5" stroke="#ef5350" stroke-width="0.7"/>
<rect x="191.05" y="302.8" width="3.2" height="5.1" fill="#ef5350"/>
<line x1="196.79" y1="306.6" x2="196.79" y2="317.8" stroke="#ef5350" stroke-width="0.7"/>
<rect x="195.19" y="307.9" width="3.2" height="2.9" fill="#ef5350"/>
<line x1="200.93" y1="299.0" x2="200.93" y2="312.7" stroke="#26a69a" stroke-width="0.7"/>
<rect x="199.33" y="300.9" width="3.2" height="9.9" fill="#26a69a"/>
<line x1="205.07" y1="260.2" x2="205.07" y2="302.8" stroke="#26a69a" stroke-width="0.7"/>
<rect x="203.47" y="267.4" width="3.2" height="33.2" fill="#26a69a"/>
<line x1="209.22" y1="235.8" x2="209.22" y2="275.9" stroke="#26a69a" stroke-width="0.7"/>
<rect x="207.62" y="248.1" width="3.2" height="19.1" fill="#26a69a"/>
<line x1="213.36" y1="243.7" x2="213.36" y2="263.6" stroke="#26a69a" stroke-width="0.7"/>
<rect x="211.76" y="246.9" width="3.2" height="0.9" fill="#26a69a"/>
<line x1="217.50" y1="204.1" x2="217.50" y2="259.8" stroke="#26a69a" stroke-width="0.7"/>
<rect x="215.90" y="220.0" width="3.2" height="26.9" fill="#26a69a"/>
<line x1="221.64" y1="214.0" x2="221.64" y2="251.8" stroke="#ef5350" stroke-width="0.7"/>
<rect x="220.04" y="220.0" width="3.2" height="17.0" fill="#ef5350"/>
<line x1="225.78" y1="223.1" x2="225.78" y2="247.8" stroke="#26a69a" stroke-width="0.7"/>
<rect x="224.18" y="231.4" width="3.2" height="5.6" fill="#26a69a"/>
<line x1="229.93" y1="225.7" x2="229.93" y2="247.8" stroke="#ef5350" stroke-width="0.7"/>
<rect x="228.33" y="231.1" width="3.2" height="5.9" fill="#ef5350"/>
<line x1="234.07" y1="237.0" x2="234.07" y2="264.9" stroke="#ef5350" stroke-width="0.7"/>
<rect x="232.47" y="237.0" width="3.2" height="23.8" fill="#ef5350"/>
<line x1="238.21" y1="252.2" x2="238.21" y2="283.2" stroke="#ef5350" stroke-width="0.7"/>
<rect x="236.61" y="260.8" width="3.2" height="5.1" fill="#ef5350"/>
<line x1="242.35" y1="250.0" x2="242.35" y2="274.7" stroke="#26a69a" stroke-width="0.7"/>
<rect x="240.75" y="263.6" width="3.2" height="2.3" fill="#26a69a"/>
<line x1="246.49" y1="261.1" x2="246.49" y2="273.8" stroke="#ef5350" stroke-width="0.7"/>
<rect x="244.89" y="263.6" width="3.2" height="4.2" fill="#ef5350"/>
<line x1="250.64" y1="254.1" x2="250.64" y2="274.7" stroke="#26a69a" stroke-width="0.7"/>
<rect x="249.04" y="265.9" width="3.2" height="1.8" fill="#26a69a"/>
<line x1="254.78" y1="252.8" x2="254.78" y2="269.6" stroke="#26a69a" stroke-width="0.7"/>
<rect x="253.18" y="263.0" width="3.2" height="2.1" fill="#26a69a"/>
<line x1="258.92" y1="249.7" x2="258.92" y2="267.8" stroke="#26a69a" stroke-width="0.7"/>
<rect x="257.32" y="254.1" width="3.2" height="8.6" fill="#26a69a"/>
<line x1="263.06" y1="252.2" x2="263.06" y2="276.3" stroke="#ef5350" stroke-width="0.7"/>
<rect x="261.46" y="254.1" width="3.2" height="18.0" fill="#ef5350"/>
<line x1="267.20" y1="266.2" x2="267.20" y2="281.8" stroke="#ef5350" stroke-width="0.7"/>
<rect x="265.60" y="272.1" width="3.2" height="4.2" fill="#ef5350"/>
<line x1="271.35" y1="274.4" x2="271.35" y2="290.8" stroke="#ef5350" stroke-width="0.7"/>
<rect x="269.75" y="276.3" width="3.2" height="11.9" fill="#ef5350"/>
<line x1="275.49" y1="288.2" x2="275.49" y2="306.6" stroke="#ef5350" stroke-width="0.7"/>
<rect x="273.89" y="288.2" width="3.2" height="10.2" fill="#ef5350"/>
<line x1="279.63" y1="296.5" x2="279.63" y2="304.1" stroke="#ef5350" stroke-width="0.7"/>
<rect x="278.03" y="298.4" width="3.2" height="5.1" fill="#ef5350"/>
<line x1="283.77" y1="291.2" x2="283.77" y2="307.7" stroke="#26a69a" stroke-width="0.7"/>
<rect x="282.17" y="298.4" width="3.2" height="4.8" fill="#26a69a"/>
<line x1="287.91" y1="297.1" x2="287.91" y2="308.2" stroke="#ef5350" stroke-width="0.7"/>
<rect x="286.31" y="298.1" width="3.2" height="3.7" fill="#ef5350"/>
<line x1="292.06" y1="301.0" x2="292.06" y2="366.3" stroke="#ef5350" stroke-width="0.7"/>
<rect x="290.46" y="301.8" width="3.2" height="41.0" fill="#ef5350"/>
<line x1="296.20" y1="323.2" x2="296.20" y2="349.4" stroke="#26a69a" stroke-width="0.7"/>
<rect x="294.60" y="330.1" width="3.2" height="12.7" fill="#26a69a"/>
<line x1="300.34" y1="304.7" x2="300.34" y2="335.2" stroke="#26a69a" stroke-width="0.7"/>
<rect x="298.74" y="316.4" width="3.2" height="13.5" fill="#26a69a"/>
<line x1="304.48" y1="314.3" x2="304.48" y2="334.5" stroke="#ef5350" stroke-width="0.7"/>
<rect x="302.88" y="316.4" width="3.2" height="4.4" fill="#ef5350"/>
<line x1="308.62" y1="316.8" x2="308.62" y2="333.3" stroke="#26a69a" stroke-width="0.7"/>
<rect x="307.02" y="319.1" width="3.2" height="1.5" fill="#26a69a"/>
<line x1="312.77" y1="303.2" x2="312.77" y2="327.2" stroke="#26a69a" stroke-width="0.7"/>
<rect x="311.17" y="316.8" width="3.2" height="1.9" fill="#26a69a"/>
<line x1="316.91" y1="311.7" x2="316.91" y2="322.1" stroke="#ef5350" stroke-width="0.7"/>
<rect x="315.31" y="316.2" width="3.2" height="0.8" fill="#ef5350"/>
<line x1="321.05" y1="298.4" x2="321.05" y2="321.9" stroke="#26a69a" stroke-width="0.7"/>
<rect x="319.45" y="308.2" width="3.2" height="8.0" fill="#26a69a"/>
<line x1="325.19" y1="268.7" x2="325.19" y2="311.7" stroke="#26a69a" stroke-width="0.7"/>
<rect x="323.59" y="288.2" width="3.2" height="19.5" fill="#26a69a"/>
<line x1="329.33" y1="256.6" x2="329.33" y2="298.4" stroke="#26a69a" stroke-width="0.7"/>
<rect x="327.73" y="273.8" width="3.2" height="13.8" fill="#26a69a"/>
<line x1="333.48" y1="266.8" x2="333.48" y2="328.8" stroke="#ef5350" stroke-width="0.7"/>
<rect x="331.88" y="273.8" width="3.2" height="33.5" fill="#ef5350"/>
<line x1="337.62" y1="303.5" x2="337.62" y2="322.5" stroke="#ef5350" stroke-width="0.7"/>
<rect x="336.02" y="307.7" width="3.2" height="5.0" fill="#ef5350"/>
<line x1="341.76" y1="304.7" x2="341.76" y2="320.6" stroke="#ef5350" stroke-width="0.7"/>
<rect x="340.16" y="312.3" width="3.2" height="7.7" fill="#ef5350"/>
<line x1="345.90" y1="318.0" x2="345.90" y2="330.1" stroke="#ef5350" stroke-width="0.7"/>
<rect x="344.30" y="320.0" width="3.2" height="7.2" fill="#ef5350"/>
<line x1="350.04" y1="322.5" x2="350.04" y2="335.6" stroke="#ef5350" stroke-width="0.7"/>
<rect x="348.44" y="327.2" width="3.2" height="2.7" fill="#ef5350"/>
<line x1="354.19" y1="319.3" x2="354.19" y2="331.8" stroke="#26a69a" stroke-width="0.7"/>
<rect x="352.59" y="328.2" width="3.2" height="1.9" fill="#26a69a"/>
<line x1="358.33" y1="322.1" x2="358.33" y2="331.8" stroke="#26a69a" stroke-width="0.7"/>
<rect x="356.73" y="323.8" width="3.2" height="4.4" fill="#26a69a"/>
<line x1="362.47" y1="321.6" x2="362.47" y2="333.3" stroke="#ef5350" stroke-width="0.7"/>
<rect x="360.87" y="323.4" width="3.2" height="7.1" fill="#ef5350"/>
<line x1="366.61" y1="330.0" x2="366.61" y2="341.6" stroke="#ef5350" stroke-width="0.7"/>
<rect x="365.01" y="330.5" width="3.2" height="5.4" fill="#ef5350"/>
<line x1="370.75" y1="328.2" x2="370.75" y2="344.1" stroke="#26a69a" stroke-width="0.7"/>
<rect x="369.15" y="332.3" width="3.2" height="2.9" fill="#26a69a"/>
<line x1="374.90" y1="308.5" x2="374.90" y2="332.5" stroke="#26a69a" stroke-width="0.7"/>
<rect x="373.30" y="313.2" width="3.2" height="18.8" fill="#26a69a"/>
<line x1="379.04" y1="307.3" x2="379.04" y2="323.8" stroke="#26a69a" stroke-width="0.7"/>
<rect x="377.44" y="311.5" width="3.2" height="1.7" fill="#26a69a"/>
<line x1="383.18" y1="283.2" x2="383.18" y2="317.4" stroke="#26a69a" stroke-width="0.7"/>
<rect x="381.58" y="296.2" width="3.2" height="14.9" fill="#26a69a"/>
<line x1="387.32" y1="291.2" x2="387.32" y2="313.2" stroke="#ef5350" stroke-width="0.7"/>
<rect x="385.72" y="296.2" width="3.2" height="4.4" fill="#ef5350"/>
<line x1="391.46" y1="299.7" x2="391.46" y2="321.2" stroke="#ef5350" stroke-width="0.7"/>
<rect x="389.86" y="300.6" width="3.2" height="7.1" fill="#ef5350"/>
<line x1="395.61" y1="285.8" x2="395.61" y2="312.7" stroke="#26a69a" stroke-width="0.7"/>
<rect x="394.01" y="294.2" width="3.2" height="13.5" fill="#26a69a"/>
<line x1="399.75" y1="266.8" x2="399.75" y2="300.3" stroke="#26a69a" stroke-width="0.7"/>
<rect x="398.15" y="272.5" width="3.2" height="21.2" fill="#26a69a"/>
<line x1="403.89" y1="248.4" x2="403.89" y2="292.4" stroke="#ef5350" stroke-width="0.7"/>
<rect x="402.29" y="271.9" width="3.2" height="1.0" fill="#ef5350"/>
<line x1="408.03" y1="258.2" x2="408.03" y2="284.5" stroke="#26a69a" stroke-width="0.7"/>
<rect x="406.43" y="267.4" width="3.2" height="5.1" fill="#26a69a"/>
<line x1="412.17" y1="261.1" x2="412.17" y2="276.9" stroke="#ef5350" stroke-width="0.7"/>
<rect x="410.57" y="267.2" width="3.2" height="4.7" fill="#ef5350"/>
<line x1="416.32" y1="263.2" x2="416.32" y2="307.7" stroke="#ef5350" stroke-width="0.7"/>
<rect x="414.72" y="271.9" width="3.2" height="22.1" fill="#ef5350"/>
<line x1="420.46" y1="269.3" x2="420.46" y2="303.8" stroke="#26a69a" stroke-width="0.7"/>
<rect x="418.86" y="284.5" width="3.2" height="9.5" fill="#26a69a"/>
<line x1="424.60" y1="279.7" x2="424.60" y2="297.8" stroke="#ef5350" stroke-width="0.7"/>
<rect x="423.00" y="284.5" width="3.2" height="3.6" fill="#ef5350"/>
<line x1="428.74" y1="286.3" x2="428.74" y2="304.4" stroke="#ef5350" stroke-width="0.7"/>
<rect x="427.14" y="288.1" width="3.2" height="6.1" fill="#ef5350"/>
<line x1="432.88" y1="286.3" x2="432.88" y2="297.8" stroke="#ef5350" stroke-width="0.7"/>
<rect x="431.28" y="293.7" width="3.2" height="2.8" fill="#ef5350"/>
<line x1="437.03" y1="283.8" x2="437.03" y2="297.1" stroke="#26a69a" stroke-width="0.7"/>
<rect x="435.43" y="287.5" width="3.2" height="8.6" fill="#26a69a"/>
<line x1="441.17" y1="276.3" x2="441.17" y2="290.8" stroke="#26a69a" stroke-width="0.7"/>
<rect x="439.57" y="281.6" width="3.2" height="5.3" fill="#26a69a"/>
<line x1="445.31" y1="278.0" x2="445.31" y2="290.0" stroke="#ef5350" stroke-width="0.7"/>
<rect x="443.71" y="281.6" width="3.2" height="1.0" fill="#ef5350"/>
<line x1="449.45" y1="136.5" x2="449.45" y2="285.9" stroke="#26a69a" stroke-width="0.7"/>
<rect x="447.85" y="146.4" width="3.2" height="136.2" fill="#26a69a"/>
<line x1="453.59" y1="31.8" x2="453.59" y2="154.5" stroke="#26a69a" stroke-width="0.7"/>
<rect x="451.99" y="85.2" width="3.2" height="60.8" fill="#26a69a"/>
<line x1="457.74" y1="74.0" x2="457.74" y2="137.1" stroke="#ef5350" stroke-width="0.7"/>
<rect x="456.14" y="85.2" width="3.2" height="17.5" fill="#ef5350"/>
<line x1="461.88" y1="102.0" x2="461.88" y2="137.8" stroke="#ef5350" stroke-width="0.7"/>
<rect x="460.28" y="102.3" width="3.2" height="8.5" fill="#ef5350"/>
<line x1="466.02" y1="85.2" x2="466.02" y2="114.1" stroke="#26a69a" stroke-width="0.7"/>
<rect x="464.42" y="96.0" width="3.2" height="14.6" fill="#26a69a"/>
<line x1="470.16" y1="95.5" x2="470.16" y2="125.8" stroke="#ef5350" stroke-width="0.7"/>
<rect x="468.56" y="96.0" width="3.2" height="14.0" fill="#ef5350"/>
<line x1="474.30" y1="102.3" x2="474.30" y2="179.5" stroke="#ef5350" stroke-width="0.7"/>
<rect x="472.70" y="110.0" width="3.2" height="34.7" fill="#ef5350"/>
<line x1="478.45" y1="110.0" x2="478.45" y2="158.7" stroke="#26a69a" stroke-width="0.7"/>
<rect x="476.85" y="121.4" width="3.2" height="23.3" fill="#26a69a"/>
<line x1="482.59" y1="110.3" x2="482.59" y2="135.9" stroke="#ef5350" stroke-width="0.7"/>
<rect x="480.99" y="121.4" width="3.2" height="13.2" fill="#ef5350"/>
<line x1="486.73" y1="121.4" x2="486.73" y2="160.6" stroke="#26a69a" stroke-width="0.7"/>
<rect x="485.13" y="131.7" width="3.2" height="2.5" fill="#26a69a"/>
<line x1="490.87" y1="124.4" x2="490.87" y2="148.9" stroke="#ef5350" stroke-width="0.7"/>
<rect x="489.27" y="131.4" width="3.2" height="16.3" fill="#ef5350"/>
<line x1="495.01" y1="123.8" x2="495.01" y2="153.0" stroke="#26a69a" stroke-width="0.7"/>
<rect x="493.41" y="137.1" width="3.2" height="10.6" fill="#26a69a"/>
<line x1="499.16" y1="118.0" x2="499.16" y2="139.7" stroke="#26a69a" stroke-width="0.7"/>
<rect x="497.56" y="134.2" width="3.2" height="2.5" fill="#26a69a"/>
<line x1="503.30" y1="103.0" x2="503.30" y2="135.9" stroke="#26a69a" stroke-width="0.7"/>
<rect x="501.70" y="132.1" width="3.2" height="1.6" fill="#26a69a"/>
<line x1="507.44" y1="121.0" x2="507.44" y2="153.6" stroke="#ef5350" stroke-width="0.7"/>
<rect x="505.84" y="132.1" width="3.2" height="7.6" fill="#ef5350"/>
<line x1="511.58" y1="138.8" x2="511.58" y2="168.5" stroke="#ef5350" stroke-width="0.7"/>
<rect x="509.98" y="139.7" width="3.2" height="18.0" fill="#ef5350"/>
<line x1="515.72" y1="156.8" x2="515.72" y2="192.0" stroke="#ef5350" stroke-width="0.7"/>
<rect x="514.12" y="157.7" width="3.2" height="28.8" fill="#ef5350"/>
<line x1="519.87" y1="180.5" x2="519.87" y2="197.7" stroke="#ef5350" stroke-width="0.7"/>
<rect x="518.27" y="186.9" width="3.2" height="2.1" fill="#ef5350"/>
<line x1="524.01" y1="185.9" x2="524.01" y2="239.0" stroke="#ef5350" stroke-width="0.7"/>
<rect x="522.41" y="189.0" width="3.2" height="17.5" fill="#ef5350"/>
<line x1="528.15" y1="184.3" x2="528.15" y2="214.9" stroke="#26a69a" stroke-width="0.7"/>
<rect x="526.55" y="186.1" width="3.2" height="20.3" fill="#26a69a"/>
<line x1="532.29" y1="164.1" x2="532.29" y2="193.2" stroke="#26a69a" stroke-width="0.7"/>
<rect x="530.69" y="180.2" width="3.2" height="5.5" fill="#26a69a"/>
<line x1="536.43" y1="179.3" x2="536.43" y2="203.4" stroke="#ef5350" stroke-width="0.7"/>
<rect x="534.83" y="180.2" width="3.2" height="13.5" fill="#ef5350"/>
<line x1="540.58" y1="188.8" x2="540.58" y2="235.2" stroke="#ef5350" stroke-width="0.7"/>
<rect x="538.98" y="193.7" width="3.2" height="37.0" fill="#ef5350"/>
<line x1="544.72" y1="215.5" x2="544.72" y2="264.7" stroke="#26a69a" stroke-width="0.7"/>
<rect x="543.12" y="230.1" width="3.2" height="0.7" fill="#26a69a"/>
<line x1="548.86" y1="222.1" x2="548.86" y2="235.8" stroke="#ef5350" stroke-width="0.7"/>
<rect x="547.26" y="230.1" width="3.2" height="2.2" fill="#ef5350"/>
<line x1="553.00" y1="200.3" x2="553.00" y2="234.8" stroke="#26a69a" stroke-width="0.7"/>
<rect x="551.40" y="210.8" width="3.2" height="21.0" fill="#26a69a"/>
<line x1="557.14" y1="209.4" x2="557.14" y2="234.3" stroke="#ef5350" stroke-width="0.7"/>
<rect x="555.54" y="210.4" width="3.2" height="22.6" fill="#ef5350"/>
<line x1="561.29" y1="225.0" x2="561.29" y2="243.8" stroke="#ef5350" stroke-width="0.7"/>
<rect x="559.69" y="233.3" width="3.2" height="1.2" fill="#ef5350"/>
<line x1="565.43" y1="221.9" x2="565.43" y2="235.8" stroke="#26a69a" stroke-width="0.7"/>
<rect x="563.83" y="230.7" width="3.2" height="3.2" fill="#26a69a"/>
<line x1="569.57" y1="211.1" x2="569.57" y2="235.6" stroke="#26a69a" stroke-width="0.7"/>
<rect x="567.97" y="217.2" width="3.2" height="13.3" fill="#26a69a"/>
<line x1="573.71" y1="152.2" x2="573.71" y2="220.6" stroke="#26a69a" stroke-width="0.7"/>
<rect x="572.11" y="170.8" width="3.2" height="46.0" fill="#26a69a"/>
<line x1="577.85" y1="170.5" x2="577.85" y2="206.4" stroke="#ef5350" stroke-width="0.7"/>
<rect x="576.25" y="170.8" width="3.2" height="10.6" fill="#ef5350"/>
<line x1="582.00" y1="176.3" x2="582.00" y2="200.9" stroke="#ef5350" stroke-width="0.7"/>
<rect x="580.40" y="181.4" width="3.2" height="4.4" fill="#ef5350"/>
<line x1="586.14" y1="169.3" x2="586.14" y2="188.0" stroke="#26a69a" stroke-width="0.7"/>
<rect x="584.54" y="173.5" width="3.2" height="12.1" fill="#26a69a"/>
<line x1="590.28" y1="170.8" x2="590.28" y2="203.5" stroke="#ef5350" stroke-width="0.7"/>
<rect x="588.68" y="173.5" width="3.2" height="16.0" fill="#ef5350"/>
<line x1="594.42" y1="167.0" x2="594.42" y2="199.0" stroke="#ef5350" stroke-width="0.7"/>
<rect x="592.82" y="189.1" width="3.2" height="3.6" fill="#ef5350"/>
<line x1="598.56" y1="110.4" x2="598.56" y2="197.5" stroke="#26a69a" stroke-width="0.7"/>
<rect x="596.96" y="122.9" width="3.2" height="69.8" fill="#26a69a"/>
<line x1="602.71" y1="97.5" x2="602.71" y2="145.2" stroke="#ef5350" stroke-width="0.7"/>
<rect x="601.11" y="122.9" width="3.2" height="7.8" fill="#ef5350"/>
<line x1="606.85" y1="110.2" x2="606.85" y2="142.4" stroke="#26a69a" stroke-width="0.7"/>
<rect x="605.25" y="125.0" width="3.2" height="5.7" fill="#26a69a"/>
<line x1="610.99" y1="84.1" x2="610.99" y2="140.4" stroke="#26a69a" stroke-width="0.7"/>
<rect x="609.39" y="95.5" width="3.2" height="28.9" fill="#26a69a"/>
<line x1="615.13" y1="82.3" x2="615.13" y2="119.6" stroke="#26a69a" stroke-width="0.7"/>
<rect x="613.53" y="88.9" width="3.2" height="6.3" fill="#26a69a"/>
<line x1="619.27" y1="87.9" x2="619.27" y2="134.5" stroke="#ef5350" stroke-width="0.7"/>
<rect x="617.67" y="88.6" width="3.2" height="23.1" fill="#ef5350"/>
<line x1="623.42" y1="109.2" x2="623.42" y2="177.6" stroke="#ef5350" stroke-width="0.7"/>
<rect x="621.82" y="111.7" width="3.2" height="42.1" fill="#ef5350"/>
<line x1="627.56" y1="135.5" x2="627.56" y2="157.3" stroke="#ef5350" stroke-width="0.7"/>
<rect x="625.96" y="153.5" width="3.2" height="1.6" fill="#ef5350"/>
<line x1="631.70" y1="130.1" x2="631.70" y2="161.1" stroke="#26a69a" stroke-width="0.7"/>
<rect x="630.10" y="137.0" width="3.2" height="17.7" fill="#26a69a"/>
<line x1="635.84" y1="132.0" x2="635.84" y2="163.0" stroke="#ef5350" stroke-width="0.7"/>
<rect x="634.24" y="136.4" width="3.2" height="16.8" fill="#ef5350"/>
<line x1="639.98" y1="129.5" x2="639.98" y2="168.1" stroke="#ef5350" stroke-width="0.7"/>
<rect x="638.38" y="153.2" width="3.2" height="9.5" fill="#ef5350"/>
<line x1="644.13" y1="148.4" x2="644.13" y2="173.2" stroke="#ef5350" stroke-width="0.7"/>
<rect x="642.53" y="162.7" width="3.2" height="10.1" fill="#ef5350"/>
<line x1="648.27" y1="168.2" x2="648.27" y2="214.8" stroke="#ef5350" stroke-width="0.7"/>
<rect x="646.67" y="172.8" width="3.2" height="33.9" fill="#ef5350"/>
<line x1="652.41" y1="192.3" x2="652.41" y2="253.1" stroke="#26a69a" stroke-width="0.7"/>
<rect x="650.81" y="205.0" width="3.2" height="1.3" fill="#26a69a"/>
<line x1="656.55" y1="188.9" x2="656.55" y2="208.8" stroke="#26a69a" stroke-width="0.7"/>
<rect x="654.95" y="201.9" width="3.2" height="2.8" fill="#26a69a"/>
<line x1="660.69" y1="198.7" x2="660.69" y2="213.0" stroke="#ef5350" stroke-width="0.7"/>
<rect x="659.09" y="201.9" width="3.2" height="5.0" fill="#ef5350"/>
<line x1="664.84" y1="206.0" x2="664.84" y2="234.7" stroke="#ef5350" stroke-width="0.7"/>
<rect x="663.24" y="206.9" width="3.2" height="3.6" fill="#ef5350"/>
<line x1="668.98" y1="210.0" x2="668.98" y2="254.7" stroke="#ef5350" stroke-width="0.7"/>
<rect x="667.38" y="210.5" width="3.2" height="42.6" fill="#ef5350"/>
<line x1="673.12" y1="225.2" x2="673.12" y2="264.5" stroke="#26a69a" stroke-width="0.7"/>
<rect x="671.52" y="233.8" width="3.2" height="18.7" fill="#26a69a"/>
<line x1="677.26" y1="228.4" x2="677.26" y2="244.3" stroke="#ef5350" stroke-width="0.7"/>
<rect x="675.66" y="233.5" width="3.2" height="2.3" fill="#ef5350"/>
<line x1="681.40" y1="205.0" x2="681.40" y2="243.6" stroke="#ef5350" stroke-width="0.7"/>
<rect x="679.80" y="235.8" width="3.2" height="6.2" fill="#ef5350"/>
<line x1="685.55" y1="233.5" x2="685.55" y2="261.8" stroke="#ef5350" stroke-width="0.7"/>
<rect x="683.95" y="242.0" width="3.2" height="15.2" fill="#ef5350"/>
<line x1="689.69" y1="239.4" x2="689.69" y2="272.8" stroke="#26a69a" stroke-width="0.7"/>
<rect x="688.09" y="247.4" width="3.2" height="9.8" fill="#26a69a"/>
<line x1="693.83" y1="240.8" x2="693.83" y2="254.7" stroke="#26a69a" stroke-width="0.7"/>
<rect x="692.23" y="243.2" width="3.2" height="4.0" fill="#26a69a"/>
<line x1="697.97" y1="209.2" x2="697.97" y2="245.3" stroke="#26a69a" stroke-width="0.7"/>
<rect x="696.37" y="229.7" width="3.2" height="13.5" fill="#26a69a"/>
<line x1="702.11" y1="220.8" x2="702.11" y2="239.8" stroke="#ef5350" stroke-width="0.7"/>
<rect x="700.51" y="229.7" width="3.2" height="9.7" fill="#ef5350"/>
<line x1="706.26" y1="189.2" x2="706.26" y2="243.6" stroke="#26a69a" stroke-width="0.7"/>
<rect x="704.66" y="202.9" width="3.2" height="36.3" fill="#26a69a"/>
<line x1="710.40" y1="185.4" x2="710.40" y2="223.3" stroke="#ef5350" stroke-width="0.7"/>
<rect x="708.80" y="202.9" width="3.2" height="8.9" fill="#ef5350"/>
<line x1="714.54" y1="201.9" x2="714.54" y2="223.7" stroke="#ef5350" stroke-width="0.7"/>
<rect x="712.94" y="211.8" width="3.2" height="5.8" fill="#ef5350"/>
<line x1="718.68" y1="215.1" x2="718.68" y2="244.3" stroke="#ef5350" stroke-width="0.7"/>
<rect x="717.08" y="217.6" width="3.2" height="18.2" fill="#ef5350"/>
<line x1="722.82" y1="229.7" x2="722.82" y2="248.7" stroke="#ef5350" stroke-width="0.7"/>
<rect x="721.22" y="235.8" width="3.2" height="5.7" fill="#ef5350"/>
<line x1="726.97" y1="227.8" x2="726.97" y2="255.9" stroke="#ef5350" stroke-width="0.7"/>
<rect x="725.37" y="241.5" width="3.2" height="5.9" fill="#ef5350"/>
<line x1="731.11" y1="244.0" x2="731.11" y2="276.4" stroke="#ef5350" stroke-width="0.7"/>
<rect x="729.51" y="247.4" width="3.2" height="20.4" fill="#ef5350"/>
<line x1="735.25" y1="248.1" x2="735.25" y2="268.4" stroke="#26a69a" stroke-width="0.7"/>
<rect x="733.65" y="250.0" width="3.2" height="17.8" fill="#26a69a"/>
<line x1="739.39" y1="246.2" x2="739.39" y2="260.7" stroke="#ef5350" stroke-width="0.7"/>
<rect x="737.79" y="249.6" width="3.2" height="1.0" fill="#ef5350"/>
<line x1="743.53" y1="225.0" x2="743.53" y2="255.0" stroke="#26a69a" stroke-width="0.7"/>
<rect x="741.93" y="231.3" width="3.2" height="18.7" fill="#26a69a"/>
<line x1="747.68" y1="203.1" x2="747.68" y2="237.7" stroke="#26a69a" stroke-width="0.7"/>
<rect x="746.08" y="206.7" width="3.2" height="24.2" fill="#26a69a"/>
<line x1="751.82" y1="202.9" x2="751.82" y2="234.8" stroke="#ef5350" stroke-width="0.7"/>
<rect x="750.22" y="206.7" width="3.2" height="14.4" fill="#ef5350"/>
<line x1="755.96" y1="219.0" x2="755.96" y2="253.0" stroke="#ef5350" stroke-width="0.7"/>
<rect x="754.36" y="221.2" width="3.2" height="24.2" fill="#ef5350"/>
<line x1="760.10" y1="222.2" x2="760.10" y2="249.8" stroke="#26a69a" stroke-width="0.7"/>
<rect x="758.50" y="228.3" width="3.2" height="16.8" fill="#26a69a"/>
<line x1="764.24" y1="221.0" x2="764.24" y2="241.3" stroke="#ef5350" stroke-width="0.7"/>
<rect x="762.64" y="228.1" width="3.2" height="6.5" fill="#ef5350"/>
<line x1="768.39" y1="228.2" x2="768.39" y2="247.6" stroke="#ef5350" stroke-width="0.7"/>
<rect x="766.79" y="234.5" width="3.2" height="1.3" fill="#ef5350"/>
<line x1="772.53" y1="233.2" x2="772.53" y2="249.7" stroke="#ef5350" stroke-width="0.7"/>
<rect x="770.93" y="235.8" width="3.2" height="10.1" fill="#ef5350"/>
<line x1="776.67" y1="240.3" x2="776.67" y2="250.1" stroke="#26a69a" stroke-width="0.7"/>
<rect x="775.07" y="242.1" width="3.2" height="3.2" fill="#26a69a"/>
<line x1="780.81" y1="214.0" x2="780.81" y2="242.5" stroke="#26a69a" stroke-width="0.7"/>
<rect x="779.21" y="226.9" width="3.2" height="14.7" fill="#26a69a"/>
<line x1="784.95" y1="225.4" x2="784.95" y2="238.7" stroke="#ef5350" stroke-width="0.7"/>
<rect x="783.35" y="226.9" width="3.2" height="11.2" fill="#ef5350"/>
<line x1="789.10" y1="237.8" x2="789.10" y2="254.5" stroke="#ef5350" stroke-width="0.7"/>
<rect x="787.50" y="238.3" width="3.2" height="9.3" fill="#ef5350"/>
<line x1="793.24" y1="235.5" x2="793.24" y2="253.9" stroke="#26a69a" stroke-width="0.7"/>
<rect x="791.64" y="242.2" width="3.2" height="5.1" fill="#26a69a"/>
<line x1="797.38" y1="235.5" x2="797.38" y2="339.4" stroke="#ef5350" stroke-width="0.7"/>
<rect x="795.78" y="242.2" width="3.2" height="24.1" fill="#ef5350"/>
<line x1="801.52" y1="257.7" x2="801.52" y2="290.2" stroke="#ef5350" stroke-width="0.7"/>
<rect x="799.92" y="266.3" width="3.2" height="9.9" fill="#ef5350"/>
<line x1="805.66" y1="266.3" x2="805.66" y2="283.8" stroke="#26a69a" stroke-width="0.7"/>
<rect x="804.06" y="268.2" width="3.2" height="7.7" fill="#26a69a"/>
<line x1="809.81" y1="267.0" x2="809.81" y2="287.7" stroke="#ef5350" stroke-width="0.7"/>
<rect x="808.21" y="268.6" width="3.2" height="6.0" fill="#ef5350"/>
<line x1="813.95" y1="272.1" x2="813.95" y2="305.7" stroke="#ef5350" stroke-width="0.7"/>
<rect x="812.35" y="275.0" width="3.2" height="2.5" fill="#ef5350"/>
<line x1="818.09" y1="272.7" x2="818.09" y2="300.8" stroke="#ef5350" stroke-width="0.7"/>
<rect x="816.49" y="277.5" width="3.2" height="19.0" fill="#ef5350"/>
<line x1="822.23" y1="291.1" x2="822.23" y2="322.7" stroke="#ef5350" stroke-width="0.7"/>
<rect x="820.63" y="296.5" width="3.2" height="20.0" fill="#ef5350"/>
<line x1="826.37" y1="292.1" x2="826.37" y2="317.3" stroke="#26a69a" stroke-width="0.7"/>
<rect x="824.77" y="306.3" width="3.2" height="10.2" fill="#26a69a"/>
<line x1="830.52" y1="285.1" x2="830.52" y2="315.8" stroke="#ef5350" stroke-width="0.7"/>
<rect x="828.92" y="305.9" width="3.2" height="0.8" fill="#ef5350"/>
<line x1="834.66" y1="301.2" x2="834.66" y2="307.6" stroke="#26a69a" stroke-width="0.7"/>
<rect x="833.06" y="301.9" width="3.2" height="4.8" fill="#26a69a"/>
</g>
<line x1="693.9" y1="179.7" x2="806.2" y2="222.8" stroke="#111" stroke-width="1.55" stroke-linecap="round"/>
<text x="857.0" y="35.1" font-size="8.3" fill="#787b86" textLength="56.6" lengthAdjust="spacingAndGlyphs">1 (0.00004569)</text>
<text x="857.0" y="67.7" font-size="8.3" fill="#00bcd4" textLength="73.2" lengthAdjust="spacingAndGlyphs">0.786 (0.00003737)</text>
<text x="857.0" y="98.7" font-size="8.3" fill="#089981" textLength="73.2" lengthAdjust="spacingAndGlyphs">0.618 (0.00003083)</text>
<text x="857.0" y="124.7" font-size="8.3" fill="#4caf50" textLength="64.3" lengthAdjust="spacingAndGlyphs">0.5 (0.00002624)</text>
<text x="857.0" y="155.9" font-size="8.3" fill="#ff9800" textLength="73.2" lengthAdjust="spacingAndGlyphs">0.382 (0.00002166)</text>
<text x="857.0" y="204.7" font-size="8.3" fill="#f23645" textLength="73.2" lengthAdjust="spacingAndGlyphs">0.236 (0.00001598)</text>
<text x="857.0" y="342.8" font-size="8.3" fill="#787b86" textLength="56.6" lengthAdjust="spacingAndGlyphs">0 (0.00000680)</text>
<text x="12.8" y="32.5" font-size="8.5" fill="#2a2e39" textLength="117.7" lengthAdjust="spacingAndGlyphs">SHIB / TetherUS · 1W · Binance</text>
<text x="136.3" y="32.5" font-size="8.5" fill="#2a2e39" textLength="5.6" lengthAdjust="spacingAndGlyphs">O</text>
<text x="142.0" y="32.5" font-size="8.5" fill="#787b86" textLength="42.8" lengthAdjust="spacingAndGlyphs">0.00000833</text>
<text x="190.9" y="32.5" font-size="8.5" fill="#2a2e39" textLength="5.3" lengthAdjust="spacingAndGlyphs">H</text>
<text x="196.3" y="32.5" font-size="8.5" fill="#787b86" textLength="42.3" lengthAdjust="spacingAndGlyphs">0.00000863</text>
<text x="245.0" y="32.5" font-size="8.5" fill="#2a2e39" textLength="4.2" lengthAdjust="spacingAndGlyphs">L</text>
<text x="249.3" y="32.5" font-size="8.5" fill="#787b86" textLength="42.2" lengthAdjust="spacingAndGlyphs">0.00000828</text>
<text x="297.9" y="32.5" font-size="8.5" fill="#2a2e39" textLength="5.2" lengthAdjust="spacingAndGlyphs">C</text>
<text x="303.2" y="32.5" font-size="8.5" fill="#787b86" textLength="41.6" lengthAdjust="spacingAndGlyphs">0.00000859</text>
<text x="351.2" y="32.5" font-size="8.5" fill="#787b86" textLength="81.7" lengthAdjust="spacingAndGlyphs">+0.00000025 (+3.00%)</text>
<text x="12.8" y="44.3" font-size="8.5" fill="#2a2e39" textLength="36.2" lengthAdjust="spacingAndGlyphs">Vol · SHIB</text>
<text x="54.5" y="44.3" font-size="8.5" fill="#26a69a" textLength="17.5" lengthAdjust="spacingAndGlyphs">1.2 T</text>
<text x="12.8" y="56.4" font-size="8.5" fill="#2a2e39" textLength="76.0" lengthAdjust="spacingAndGlyphs">EMA 20/50/100/200</text>
<text x="93.9" y="56.4" font-size="8.5" fill="#ff1a1a" textLength="43.1" lengthAdjust="spacingAndGlyphs">0.00001059</text>
<text x="142.1" y="56.4" font-size="8.5" fill="#ff9800" textLength="43.2" lengthAdjust="spacingAndGlyphs">0.00001282</text>
<text x="190.9" y="56.4" font-size="8.5" fill="#00e5ff" textLength="42.6" lengthAdjust="spacingAndGlyphs">0.00001423</text>
<text x="239.3" y="56.4" font-size="8.5" fill="#1a1aff" textLength="42.8" lengthAdjust="spacingAndGlyphs">0.00001459</text>
<g clip-path="url(#rsi)">
<rect x="6.5" y="382.8" width="954.5" height="24.7" fill="#7e57c2" fill-opacity="0.1"/>
<line x1="6.5" y1="382.8" x2="961" y2="382.8" stroke="#6a6d78" stroke-width="0.6" stroke-dasharray="2.9 3.25" stroke-dashoffset="1.6"/>
<line x1="6.5" y1="395.1" x2="961" y2="395.1" stroke="#6a6d78" stroke-opacity="0.5" stroke-width="0.6" stroke-dasharray="2.9 3.25" stroke-dashoffset="1.6"/>
<line x1="6.5" y1="407.5" x2="961" y2="407.5" stroke="#6a6d78" stroke-opacity="0.8" stroke-width="0.6" stroke-dasharray="2.9 3.25" stroke-dashoffset="1.6"/>
<polygon fill="url(#gr)" points="446.8,382.8 450.0,372.1 453.9,369.2 457.6,375.4 461.8,378.4 466.0,376.8 470.2,381.0 470.9,382.8"/>
<polyline fill="none" stroke="#fdd835" stroke-width="0.75" stroke-linejoin="round"  points="7.1,393.2 25.2,396.1 50.4,397.8 75.6,400.6 92.4,402.8 109.2,403.6 126.0,402.0 142.8,400.6 159.6,399.9 172.0,400.0 183.4,400.8 196.9,401.6 210.3,400.3 223.8,398.3 237.2,396.4 250.6,395.6 260.7,394.7 270.8,395.7 284.2,398.3 297.7,400.3 312.8,401.6 324.5,401.6 342.0,400.3 356.8,400.6 373.6,399.8 390.4,398.3 407.2,395.6 424.0,392.7 440.8,391.9 447.5,390.7 457.6,387.7 474.4,384.8 491.2,383.5 501.3,383.1 508.0,384.8 518.4,388.5 526.8,391.5 543.6,395.2 560.4,398.6 570.5,399.8 582.2,398.3 594.0,397.4 604.1,395.2 614.1,392.2 624.2,390.5 641.0,390.2 652.8,391.4 664.5,395.2 674.6,398.6 682.0,399.6 690.1,401.1 701.8,401.5 713.6,400.8 730.4,400.8 747.2,399.4 760.6,398.1 774.1,398.6 787.5,397.4 797.6,396.9 807.7,398.3 821.1,399.8 834.9,401.5"/>
<polyline fill="none" stroke="#7e57c2" stroke-width="0.75" stroke-linejoin="round"  points="7.1,394.9 11.8,396.9 18.5,397.8 25.2,398.6 33.6,395.6 42.0,396.9 50.4,398.6 61.3,404.0 70.6,405.0 76.4,406.2 81.5,406.2 85.7,403.3 90.7,403.6 99.1,401.6 109.2,401.1 114.2,395.2 121.0,399.4 129.3,398.3 134.4,400.6 147.8,400.3 154.5,401.1 159.6,398.6 163.8,398.6 168.0,402.0 172.0,402.3 176.7,401.1 183.4,401.1 190.2,402.8 196.0,403.6 200.2,402.3 206.1,395.2 210.3,393.2 213.7,393.2 217.9,389.0 222.1,392.4 225.4,391.4 229.6,392.7 234.7,396.6 240.6,396.9 249.0,397.4 254.0,396.9 258.2,395.2 263.2,398.3 267.4,399.1 272.5,401.1 277.5,402.5 280.9,402.8 284.2,401.5 287.6,402.3 292.6,406.7 296.0,405.0 301.0,402.0 309.4,402.3 316.1,401.1 320.3,399.1 324.5,395.2 329.2,391.5 333.8,398.3 338.0,399.4 345.0,401.1 353.4,401.5 358.5,400.3 366.9,402.5 371.1,401.1 375.3,396.4 378.6,396.1 383.7,392.2 391.2,395.6 400.5,387.3 404.7,387.2 408.0,386.0 412.2,388.2 416.4,394.7 420.6,392.2 425.7,393.9 429.9,395.6 434.1,395.6 439.1,392.7 442.5,391.5 445.5,391.9 450.0,372.1 453.9,369.2 457.6,375.4 461.8,378.4 466.0,376.8 470.2,381.0 474.4,388.9 478.6,386.5 482.8,388.5 487.0,388.5 491.2,391.5 496.2,389.9 502.9,389.4 507.1,391.0 512.0,394.9 515.9,397.8 520.1,398.3 524.3,399.9 530.2,396.1 535.2,397.8 541.1,401.6 548.6,402.0 553.3,399.1 557.9,401.1 562.9,401.1 568.0,399.4 573.8,391.5 578.0,393.6 582.2,394.1 586.4,391.9 591.5,395.2 594.0,395.2 598.7,385.2 603.2,386.8 607.4,385.7 611.6,382.1 615.5,381.5 619.2,387.7 624.2,394.9 627.6,394.9 631.8,392.2 636.0,394.9 641.0,396.1 644.4,397.3 648.6,400.3 657.8,399.9 664.5,400.8 669.6,404.5 673.8,402.0 680.0,402.3 685.9,404.0 690.1,402.3 694.3,401.6 698.5,399.9 702.7,401.1 706.9,395.2 711.1,396.1 715.3,397.3 719.5,399.9 725.4,400.8 731.2,403.3 736.3,400.3 740.5,400.3 748.0,393.1 752.2,395.7 756.4,398.6 760.6,396.1 764.8,397.3 769.0,397.4 773.2,399.1 777.4,398.3 780.8,395.2 786.7,398.6 794.2,398.3 798.4,401.1 802.6,402.3 806.8,400.8 812.7,401.6 817.7,404.0 822.4,405.8 827.0,404.5 831.2,404.5 834.9,403.3"/>
</g>
<text x="12.8" y="380.6" font-size="8.5" fill="#2a2e39" textLength="53.4" lengthAdjust="spacingAndGlyphs">RSI (14, close)</text>
<text x="71.7" y="380.6" font-size="8.5" fill="#7e57c2" textLength="20.6" lengthAdjust="spacingAndGlyphs">37.24</text>
<text x="97.9" y="380.6" font-size="8.5" fill="#fdd835" textLength="20.5" lengthAdjust="spacingAndGlyphs">40.35</text>
<text x="124.6" y="380.8" font-size="8.6" fill="#2a2e39">∅</text>
<text x="137.9" y="380.8" font-size="8.6" fill="#2a2e39">∅</text>
<line x1="6.5" y1="411.4" x2="1017.3" y2="411.4" stroke="#b2b5be" stroke-width="1.3"/>
<g clip-path="url(#taxis)">
<text x="93.2" y="423.6" font-size="8.2" fill="#2a2e39" text-anchor="middle">Jul</text>
<text x="200.9" y="423.6" font-size="8.2" fill="#2a2e39" text-anchor="middle" font-weight="bold" textLength="17.2" lengthAdjust="spacingAndGlyphs">2023</text>
<text x="308.6" y="423.6" font-size="8.2" fill="#2a2e39" text-anchor="middle">Jul</text>
<text x="416.3" y="423.6" font-size="8.2" fill="#2a2e39" text-anchor="middle" font-weight="bold" textLength="17.2" lengthAdjust="spacingAndGlyphs">2024</text>
<text x="524.0" y="423.6" font-size="8.2" fill="#2a2e39" text-anchor="middle">Jul</text>
<text x="635.8" y="423.6" font-size="8.2" fill="#2a2e39" text-anchor="middle" font-weight="bold" textLength="17.2" lengthAdjust="spacingAndGlyphs">2025</text>
<text x="743.5" y="423.6" font-size="8.2" fill="#2a2e39" text-anchor="middle">Jul</text>
<text x="851.2" y="423.6" font-size="8.2" fill="#2a2e39" text-anchor="middle" font-weight="bold" textLength="17.2" lengthAdjust="spacingAndGlyphs">2026</text>
<text x="958.9" y="423.6" font-size="8.2" fill="#2a2e39" text-anchor="middle">Jul</text>
</g>
<line x1="961" y1="18.6" x2="961" y2="430.3" stroke="#c0c3cb" stroke-width="1.5"/>
<g clip-path="url(#axis)">
<text x="967.0" y="77.9" font-size="8.0" fill="#2a2e39" textLength="38.9" lengthAdjust="spacingAndGlyphs">0.00003500</text>
<text x="967.0" y="108.2" font-size="8.0" fill="#2a2e39" textLength="38.9" lengthAdjust="spacingAndGlyphs">0.00002900</text>
<text x="967.0" y="132.2" font-size="8.0" fill="#2a2e39" textLength="38.9" lengthAdjust="spacingAndGlyphs">0.00002500</text>
<text x="967.0" y="160.4" font-size="8.0" fill="#2a2e39" textLength="38.9" lengthAdjust="spacingAndGlyphs">0.00002100</text>
<text x="967.0" y="185.3" font-size="8.0" fill="#2a2e39" textLength="38.9" lengthAdjust="spacingAndGlyphs">0.00001800</text>
<text x="967.0" y="214.7" font-size="8.0" fill="#2a2e39" textLength="38.9" lengthAdjust="spacingAndGlyphs">0.00001500</text>
<text x="967.0" y="237.8" font-size="8.0" fill="#2a2e39" textLength="38.9" lengthAdjust="spacingAndGlyphs">0.00001300</text>
<text x="967.0" y="257.6" font-size="8.0" fill="#2a2e39" textLength="38.9" lengthAdjust="spacingAndGlyphs">0.00001150</text>
<text x="967.0" y="280.2" font-size="8.0" fill="#2a2e39" textLength="38.9" lengthAdjust="spacingAndGlyphs">0.00001000</text>
<text x="967.0" y="347.3" font-size="8.0" fill="#2a2e39" textLength="38.9" lengthAdjust="spacingAndGlyphs">0.00000660</text>
<text x="967.0" y="368.2" font-size="8.0" fill="#2a2e39" textLength="38.9" lengthAdjust="spacingAndGlyphs">0.00000580</text>
</g>
<text x="967.0" y="379.0" font-size="8.0" fill="#2a2e39" textLength="19.2" lengthAdjust="spacingAndGlyphs">80.00</text>
<text x="967.0" y="404.2" font-size="8.0" fill="#2a2e39" textLength="19.2" lengthAdjust="spacingAndGlyphs">40.00</text>
<rect x="963.8" y="21.3" width="50.4" height="17.7" rx="2.5" fill="#fff" stroke="#f0f3f9" stroke-width="0.9"/>
<text x="970.3" y="33.0" font-size="8.8" fill="#131722" textLength="18.8" lengthAdjust="spacingAndGlyphs" font-weight="bold">USDT</text>
<path d="M961 285.4h47.1a1.5 1.5 0 0 1 1.5 1.5v9.2h-48.6z" fill="#2962ff"/>
<path d="M961 296.1h48.6v20.3h-48.6z" fill="#26a69a"/>
<path d="M961 316.4h48.6v9.1a1.5 1.5 0 0 1 -1.5 1.5h-47.1z" fill="#2962ff"/>
<path d="M923.6 296.1h37.4v11h-37.4a1.5 1.5 0 0 1 -1.5 -1.5v-8a1.5 1.5 0 0 1 1.5 -1.5z" fill="#26a69a"/>
<text x="967.0" y="294.0" font-size="8.0" fill="#fff" textLength="38.9" lengthAdjust="spacingAndGlyphs">0.00000882</text>
<text x="967.0" y="305.0" font-size="8.0" fill="#fff" textLength="38.9" lengthAdjust="spacingAndGlyphs">0.00000859</text>
<text x="967.0" y="313.9" font-size="8.0" fill="#fff" textLength="22.7" lengthAdjust="spacingAndGlyphs">5d 16h</text>
<text x="967.0" y="324.9" font-size="8.0" fill="#fff" textLength="38.9" lengthAdjust="spacingAndGlyphs">0.00000790</text>
<text x="924.8" y="305.0" font-size="8.0" fill="#fff" textLength="32.6" lengthAdjust="spacingAndGlyphs">SHIBUSDT</text>
<g fill="#131722">
<path d="M8.3 446h8.9v10.8h-5.1v-5.7h-3.8z"/>
<circle cx="19.9" cy="447.8" r="1.9"/>
<path d="M24.8 446h4.5l-3.9 10.8h-4.6z"/>
</g>
<text x="34.3" y="456.8" font-size="15" fill="#131722" textLength="85.0" lengthAdjust="spacingAndGlyphs" font-weight="bold">TradingView</text>
</svg></body></html>
